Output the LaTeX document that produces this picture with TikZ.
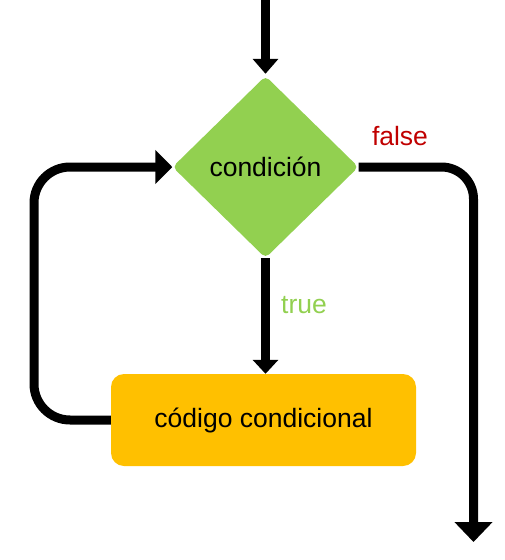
\documentclass[tikz,border=0pt]{standalone}
\usepackage{fontspec}
\setmainfont{Liberation Sans}
\usetikzlibrary{shapes.geometric,arrows.meta}
\definecolor{dgreen}{HTML}{92D050}
\definecolor{borange}{HTML}{FFC000}
\definecolor{fred}{HTML}{C00000}
\begin{document}
\begin{tikzpicture}[x=1pt,y=-1pt,
  txt/.style={font=\fontsize{26.5}{30}\selectfont},
  conn/.style={line width=9pt,black},
  cond/.style={diamond,fill=dgreen,minimum width=186pt,minimum height=182pt,inner sep=0pt,rounded corners=5pt,txt},
  codebox/.style={rectangle,fill=borange,minimum width=305pt,minimum height=92pt,rounded corners=13pt,txt},
  lbl/.style={txt}]
\useasboundingbox (0,0) rectangle (504,560);
\node[cond] (dia) at (265.5,167) {condición};
\node[codebox] (box) at (263.5,420) {código condicional};
\coordinate (start) at (265.5,0);
\coordinate (end) at (473.5,542);
\coordinate (lc) at (34,420);
\node[lbl,text=fred] (f) at (400,136) {false};
\node[lbl,text=dgreen] (t) at (304,305) {true};
\draw[conn,-{Triangle[width=25pt,length=15pt]},shorten >=2pt] (start) -- (dia.north);
\draw[conn,-{Triangle[width=25pt,length=14pt]}] (dia.south) -- (dia.south |- box.north);
\draw[conn,-{Triangle[width=33pt,length=17pt]},rounded corners=36pt] (box.west) -- (lc) -- (lc |- dia.west) -- (dia.west);
\draw[conn,-{Triangle[width=37pt,length=20pt]},rounded corners=32pt] (dia.east) -- (dia.east -| end) -- (end);
\end{tikzpicture}
\end{document}
